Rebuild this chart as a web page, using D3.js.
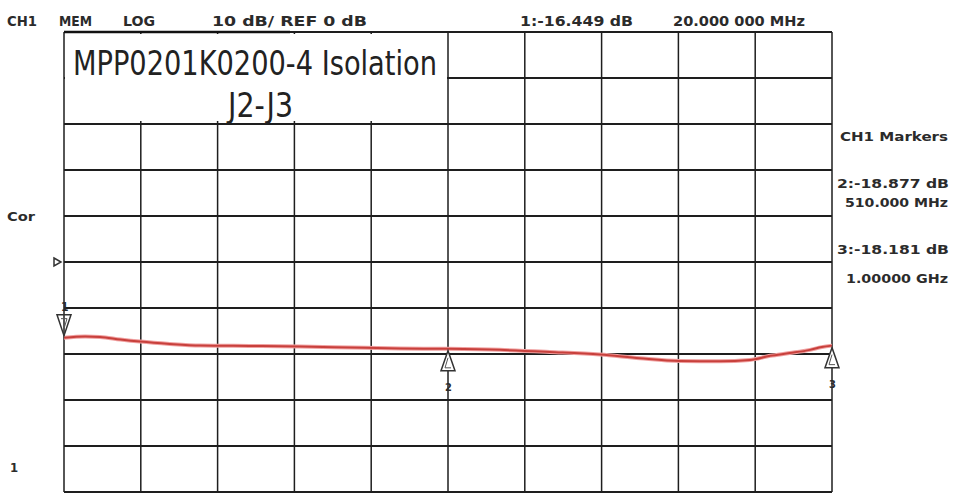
<!DOCTYPE html>
<html lang="en">
<head>
<meta charset="UTF-8">
<title>Isolation J2-J3</title>
<style type="text/css">
    body{margin:0;background:#fff;}
    svg{display:block;}
    .lbl{font-family:"DejaVu Sans Condensed","DejaVu Sans",sans-serif;font-weight:bold;fill:#2b2b2b;}
</style>
<script src="https://cdn.jsdelivr.net/npm/d3@7/dist/d3.min.js"></script>
</head>
<body>
<div id="draw"></div>
<script>
    // trace: frequency (MHz) and S-parameter (dB)
    var freqMHz = [20, 47, 66, 92, 117, 155, 194, 257, 321, 385, 449, 510, 576, 640, 704, 755, 806, 857, 895, 921, 946, 972, 987, 1000];
    var isoDb   = [-16.45, -16.2, -16.3, -16.85, -17.3, -17.8, -18.15, -18.26, -18.37, -18.6, -18.8, -18.88, -19.1, -19.55, -20.1, -20.9, -21.5, -21.6, -21.3, -20.4, -19.8, -19.1, -18.5, -18.18];
    var markerNo  = [1, 2, 3];
    var markerMHz = [20, 510, 1000];
    var markerDb  = [-16.449, -18.877, -18.181];
    var headLeft  = ["CH1", "MEM", "LOG", "10 dB/ REF 0 dB"];
    var headRight = ["1:-16.449 dB", "20.000 000 MHz"];
    var sideText  = ["CH1 Markers", "2:-18.877 dB", "510.000 MHz", "3:-18.181 dB", "1.00000 GHz"];

    var w = 956, h = 502;
    var gLeft = 64, gRight = 832, gTop = 32, gBottom = 492;

    var x = d3.scaleLinear().domain([20, 1000]).range([gLeft, gRight]);
    var y = d3.scaleLinear().domain([-50, 50]).range([gBottom, gTop]);

    var svg = d3.select("#draw").append("svg")
        .attr("width", w).attr("height", h);

    // grid: 10 divisions each way
    var xTicks = d3.range(0, 11).map(function(i){ return 20 + i * 98; });
    var yTicks = d3.range(-50, 51, 10);
    svg.append("g").selectAll("line").data(xTicks).enter().append("line")
        .attr("x1", function(d){ return x(d); }).attr("x2", function(d){ return x(d); })
        .attr("y1", gTop).attr("y2", gBottom)
        .attr("stroke", "#1e1e1e").attr("stroke-width", 1.5);
    svg.append("g").selectAll("line").data(yTicks).enter().append("line")
        .attr("x1", gLeft).attr("x2", gRight)
        .attr("y1", function(d){ return y(d); }).attr("y2", function(d){ return y(d); })
        .attr("stroke", "#1e1e1e").attr("stroke-width", 1.8);

    // title box covers the top-left grid cells
    svg.append("rect")
        .attr("x", gLeft + 1).attr("y", gTop + 2)
        .attr("width", x(510) - gLeft - 2).attr("height", y(30) - gTop - 5)
        .attr("fill", "#fff");
    svg.append("line")
        .attr("x1", gLeft).attr("x2", 290).attr("y1", gTop).attr("y2", gTop)
        .attr("stroke", "#111").attr("stroke-width", 2.6);
    svg.append("text")
        .attr("x", 73).attr("y", 75)
        .attr("textLength", 364).attr("lengthAdjust", "spacingAndGlyphs")
        .style("font-family", "'DejaVu Sans Condensed','DejaVu Sans',sans-serif")
        .style("font-size", "33px").style("fill", "#222")
        .text("MPP0201K0200-4 Isolation");
    svg.append("text")
        .attr("x", 228).attr("y", 117)
        .attr("textLength", 65).attr("lengthAdjust", "spacingAndGlyphs")
        .style("font-family", "'DejaVu Sans Condensed','DejaVu Sans',sans-serif")
        .style("font-size", "33px").style("fill", "#222")
        .text("J2-J3");

    // trace
    var line = d3.line()
        .x(function(d, i){ return x(freqMHz[i]); })
        .y(function(d){ return y(d); })
        .curve(d3.curveMonotoneX);
    svg.append("path").attr("d", line(isoDb))
        .attr("fill", "none").attr("stroke", "#f0a0a0").attr("stroke-width", 4);
    svg.append("path").attr("d", line(isoDb))
        .attr("fill", "none").attr("stroke", "#c8403c").attr("stroke-width", 2);

    // markers
    markerNo.forEach(function(n, i){
        var mx = x(markerMHz[i]), my = y(markerDb[i]);
        var g = svg.append("g").attr("transform", "translate(" + mx + "," + my + ")");
        if (n === 1) {
            g.append("path").attr("d", "M-7,-23L7,-23L0,-2Z")
                .attr("fill", "none").attr("stroke", "#333").attr("stroke-width", 1.5);
            g.append("path").attr("d", "M-3,-19L3,-19L0,-9")
                .attr("fill", "none").attr("stroke", "#555").attr("stroke-width", 1);
            g.append("text").attr("class", "lbl").attr("x", -3).attr("y", -27)
                .style("font-size", "12px").text(n);
        } else {
            g.append("path").attr("d", "M0,2L-7,22L7,22Z")
                .attr("fill", "#fff").attr("stroke", "#333").attr("stroke-width", 1.5);
            g.append("path").attr("d", "M0,9L-3,19L3,19")
                .attr("fill", "none").attr("stroke", "#555").attr("stroke-width", 1);
            g.append("text").attr("class", "lbl").attr("x", -3).attr("y", 42)
                .style("font-size", "11px").text(n);
        }
    });

    // header texts
    var hl = [[7, 30], [59, 33], [123, 32], [212, 155]];
    headLeft.forEach(function(t, i){
        svg.append("text").attr("class", "lbl")
            .attr("x", hl[i][0]).attr("y", 26)
            .attr("textLength", hl[i][1]).attr("lengthAdjust", "spacingAndGlyphs")
            .style("font-size", "14px").text(t);
    });
    var hr = [[520, 113], [673, 132]];
    headRight.forEach(function(t, i){
        svg.append("text").attr("class", "lbl")
            .attr("x", hr[i][0]).attr("y", 26)
            .attr("textLength", hr[i][1]).attr("lengthAdjust", "spacingAndGlyphs")
            .style("font-size", "14px").text(t);
    });

    // right side marker readout
    var sp = [[840, 141, 108], [837, 188, 112], [845, 207, 103], [837, 254, 112], [846, 283, 102]];
    sideText.forEach(function(t, i){
        svg.append("text").attr("class", "lbl")
            .attr("x", sp[i][0]).attr("y", sp[i][1])
            .attr("textLength", sp[i][2]).attr("lengthAdjust", "spacingAndGlyphs")
            .style("font-size", "13px").text(t);
    });

    // left side annotations
    svg.append("text").attr("class", "lbl").attr("x", 7).attr("y", 221)
        .attr("textLength", 28).attr("lengthAdjust", "spacingAndGlyphs")
        .style("font-size", "13px").text("Cor");
    svg.append("path").attr("d", "M54," + (y(0) - 4) + "L61," + y(0) + "L54," + (y(0) + 4) + "Z")
        .attr("fill", "none").attr("stroke", "#333").attr("stroke-width", 1.5);
    svg.append("text").attr("class", "lbl").attr("x", 10).attr("y", 472)
        .style("font-size", "13px").text("1");
</script>
</body>
</html>
